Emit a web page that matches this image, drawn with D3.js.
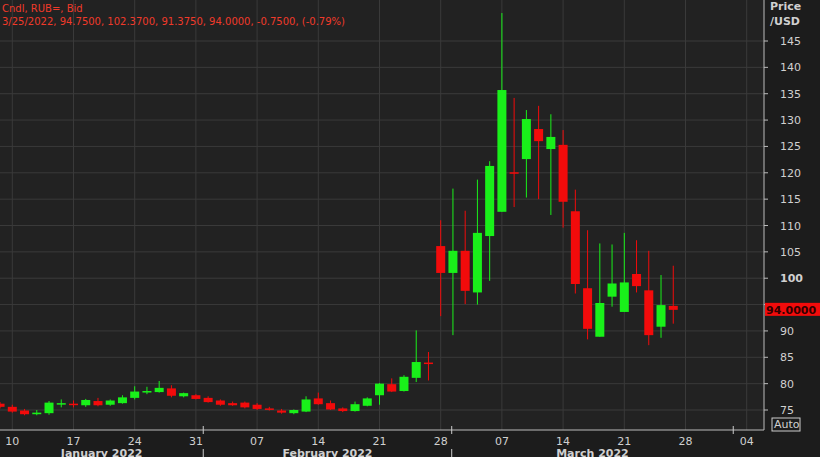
<!DOCTYPE html>
<html><head><meta charset="utf-8">
<script src="https://cdn.jsdelivr.net/npm/d3@7"></script>
<style>body{margin:0;background:#1e1e1e}svg{display:block;font-family:Tahoma,"DejaVu Sans",sans-serif}</style>
</head><body><svg id="chart" width="820" height="457"></svg>
<script>
// trading days, Jan 7 .. Mar 25 2022
const dates = ["2022-01-07","2022-01-10","2022-01-11","2022-01-12","2022-01-13","2022-01-14",
  "2022-01-17","2022-01-18","2022-01-19","2022-01-20","2022-01-21",
  "2022-01-24","2022-01-25","2022-01-26","2022-01-27","2022-01-28",
  "2022-01-31","2022-02-01","2022-02-02","2022-02-03","2022-02-04",
  "2022-02-07","2022-02-08","2022-02-09","2022-02-10","2022-02-11",
  "2022-02-14","2022-02-15","2022-02-16","2022-02-17","2022-02-18",
  "2022-02-21","2022-02-22","2022-02-23","2022-02-24","2022-02-25",
  "2022-02-28","2022-03-01","2022-03-02","2022-03-03","2022-03-04",
  "2022-03-07","2022-03-08","2022-03-09","2022-03-10","2022-03-11",
  "2022-03-14","2022-03-15","2022-03-16","2022-03-17","2022-03-18",
  "2022-03-21","2022-03-22","2022-03-23","2022-03-24","2022-03-25"]
const opens = [76.2,75.6,74.9,74.2,74.4,76.3,76.2,75.9,76.7,76.0,76.3,
  77.3,78.6,78.4,79.1,77.6,77.8,77.3,76.8,76.3,76.4,76.0,75.3,74.9,74.4,74.7,
  77.2,76.3,75.3,74.8,75.8,77.8,79.9,78.6,81.1,84.0,
  106.1,101.0,105.2,97.3,108.0,112.6,120.1,122.6,128.3,124.5,
  125.3,112.7,98.1,88.9,96.5,93.6,100.8,97.7,90.8,94.75]
const highs = [76.5,76.0,75.2,75.0,76.7,77.0,76.8,77.1,77.3,77.0,77.8,
  79.5,79.4,80.5,79.7,78.3,78.0,77.6,77.0,76.6,76.6,76.3,75.6,75.2,75.1,77.6,
  78.3,76.8,75.5,76.6,77.4,80.1,81.0,81.6,90.1,86.0,
  111.0,117.0,112.8,118.7,122.2,150.3,134.2,131.9,132.7,131.1,
  128.1,116.8,109.1,106.6,106.4,108.6,107.2,105.2,100.6,102.37]
const lows = [75.3,74.5,74.0,74.0,74.1,75.5,75.5,75.6,75.7,75.8,76.2,
  77.0,78.0,78.3,77.4,77.4,77.0,76.4,75.8,75.8,75.3,75.0,74.9,74.3,74.2,74.6,
  76.0,75.0,74.6,74.7,75.7,76.0,78.4,78.5,80.3,80.6,
  92.8,89.2,95.1,95.0,99.5,112.6,113.5,115.3,115.0,112.0,
  109.6,97.1,88.4,88.9,94.6,93.6,97.3,87.3,88.7,91.375]
const closes = [75.6,74.7,74.2,74.5,76.4,76.3,76.1,76.9,75.9,76.8,77.4,
  78.5,78.6,79.2,77.7,78.2,77.1,76.5,76.0,75.9,75.5,75.2,75.2,74.5,75.0,77.0,
  76.1,75.1,74.8,76.1,77.2,80.0,78.5,81.3,84.1,83.8,
  101.0,105.2,97.6,108.6,121.3,135.7,119.9,130.2,126.0,126.8,
  114.5,98.9,90.4,95.3,99.0,99.2,98.5,89.2,94.9,94.0]
const priceTicks = [75,80,85,90,95,100,105,110,115,120,125,130,135,140,145]
// week ticks: [trading-day index, label]; index 56 = Mar 28, 61 = Apr 4
const weekTicks = [[1,"10"],[6,"17"],[11,"24"],[16,"31"],[21,"07"],[26,"14"],[31,"21"],
  [36,"28"],[41,"07"],[46,"14"],[51,"21"],[56,"28"],[61,"04"]]
const months = [[-1,16.6,"January 2022"],[16.6,36.9,"February 2022"],[36.9,59.9,"March 2022"]]

const svg = d3.select("#chart")
const W = 820, H = 457
const plotR = 764, plotB = 430
const x = d3.scaleLinear().domain([1, 61]).range([12.3, 746.7])
const y = d3.scaleLinear().domain([75, 145]).range([410, 41])
const up = "#19f01a", down = "#f20b0b"

svg.append("rect").attr("width", W).attr("height", H).attr("fill", "#1c1c1c")
svg.append("rect").attr("width", plotR).attr("height", plotB).attr("fill", "#222222")

// grid
svg.append("g").selectAll("line").data(priceTicks).join("line")
  .attr("x1", 0).attr("x2", plotR).attr("y1", d => y(d)).attr("y2", d => y(d))
  .attr("stroke", "#3a3a3a")
svg.append("g").selectAll("line").data(weekTicks).join("line")
  .attr("x1", d => x(d[0])).attr("x2", d => x(d[0])).attr("y1", 0).attr("y2", plotB)
  .attr("stroke", "#3a3a3a")

// axes lines
svg.append("line").attr("x1", 0).attr("x2", plotR).attr("y1", plotB).attr("y2", plotB).attr("stroke", "#bbb")
svg.append("line").attr("x1", plotR).attr("x2", plotR).attr("y1", 0).attr("y2", plotB).attr("stroke", "#bbb")

// candles
const idx = d3.range(dates.length)
const g = svg.append("g")
g.selectAll("line").data(idx).join("line")
  .attr("x1", i => x(i)).attr("x2", i => x(i))
  .attr("y1", i => y(highs[i])).attr("y2", i => y(lows[i]))
  .attr("stroke", i => closes[i] >= opens[i] ? up : down).attr("stroke-width", 1)
g.selectAll("rect").data(idx).join("rect")
  .attr("x", i => x(i) - 4.5).attr("width", 9)
  .attr("y", i => y(Math.max(opens[i], closes[i])))
  .attr("height", i => Math.max(1.5, Math.abs(y(opens[i]) - y(closes[i]))))
  .attr("fill", i => closes[i] >= opens[i] ? up : down)

// price axis labels
svg.append("g").selectAll("text").data(priceTicks.filter(d => d !== 95)).join("text")
  .attr("x", 780).attr("y", d => y(d) + 4).attr("font-size", 11)
  .attr("font-weight", d => d === 100 ? "bold" : null)
  .attr("fill", "#d0d0d0").text(d => d)
svg.append("g").selectAll("line").data(priceTicks).join("line")
  .attr("x1", plotR).attr("x2", plotR + 4).attr("y1", d => y(d)).attr("y2", d => y(d)).attr("stroke", "#bbb")
svg.append("text").attr("x", 770).attr("y", 10).attr("font-size", 11).attr("font-weight", "bold").attr("fill", "#d0d0d0").text("Price")
svg.append("text").attr("x", 770).attr("y", 25).attr("font-size", 11).attr("font-weight", "bold").attr("fill", "#d0d0d0").text("/USD")

// last price tag
const last = closes[closes.length - 1]
svg.append("rect").attr("x", plotR + 1).attr("y", y(last) - 7).attr("width", W - plotR).attr("height", 13).attr("fill", "#f20b0b")
svg.append("text").attr("x", plotR + 2).attr("y", y(last) + 4).attr("font-size", 11).attr("font-weight", "bold")
  .attr("fill", "#300").text(last.toFixed(4))

// Auto box
svg.append("rect").attr("x", 772).attr("y", 418).attr("width", 28).attr("height", 13).attr("fill", "none").attr("stroke", "#ccc")
svg.append("text").attr("x", 774).attr("y", 428).attr("font-size", 11).attr("fill", "#d0d0d0").text("Auto")

// date axis
svg.append("g").selectAll("text").data(weekTicks).join("text")
  .attr("x", d => x(d[0])).attr("y", 445).attr("text-anchor", "middle")
  .attr("font-size", 11).attr("fill", "#d0d0d0").text(d => d[1])
svg.append("g").selectAll("text").data(months).join("text")
  .attr("x", d => (x(Math.max(d[0], 0)) + x(d[1])) / 2).attr("y", 457).attr("text-anchor", "middle")
  .attr("font-size", 11).attr("font-weight", "bold").attr("fill", "#d0d0d0").text(d => d[2])
svg.append("g").selectAll("line").data(months).join("line")
  .attr("x1", d => x(d[1])).attr("x2", d => x(d[1])).attr("y1", plotB - 4).attr("y2", plotB + 4).attr("stroke", "#ccc")
svg.append("g").selectAll("line").data(months.slice(0, 2)).join("line")
  .attr("x1", d => x(d[1])).attr("x2", d => x(d[1])).attr("y1", 449).attr("y2", 457).attr("stroke", "#ccc")

// legend
svg.append("text").attr("x", 2).attr("y", 12).attr("font-size", 10).attr("fill", "#f03a2a").text("Cndl, RUB=, Bid")
svg.append("text").attr("x", 2).attr("y", 25).attr("font-size", 10).attr("fill", "#f03a2a")
  .text("3/25/2022, 94.7500, 102.3700, 91.3750, 94.0000, -0.7500, (-0.79%)")
</script></body></html>
